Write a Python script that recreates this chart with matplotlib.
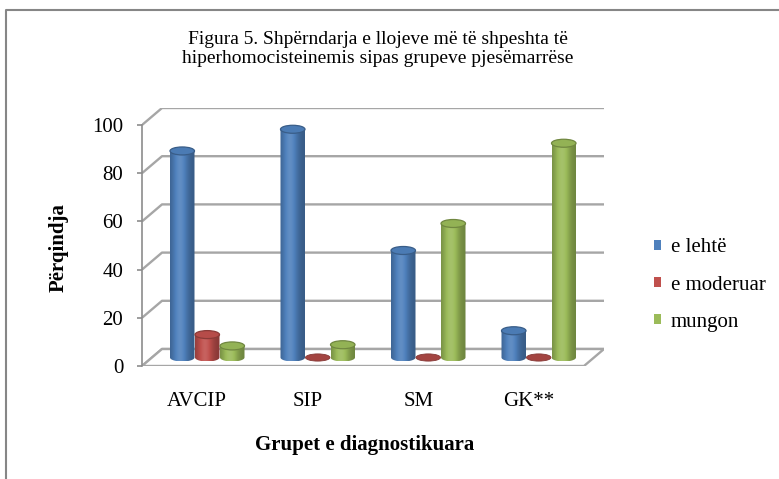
import numpy as np
import matplotlib
matplotlib.use('Agg')
import matplotlib.pyplot as plt
from matplotlib.patches import Ellipse, Patch, Polygon, PathPatch
from matplotlib.lines import Line2D
from matplotlib.path import Path
from matplotlib.colors import to_rgb
from matplotlib.font_manager import FontProperties

# ---------------- data ----------------
categories = ['AVCIP', 'SIP', 'SM', 'GK**']
series_names = ['e lehtë', 'e moderuar', 'mungon']
lehte = [85.7, 94.7, 44.4, 11.1]
moderuar = [9.5, 0.0, 0.0, 0.0]
mungon = [4.8, 5.3, 55.6, 88.9]
yticks = [0, 20, 40, 60, 80, 100]
title = 'Figura 5. Shpërndarja e llojeve më të shpeshta të\nhiperhomocisteinemis sipas grupeve pjesëmarrëse'
ylabel = 'Përqindja'
xlabel = 'Grupet e diagnostikuara'

# ---------------- style ----------------
colors = ['#4F81BD', '#C0504D', '#9BBB59']
grid_col = '#A6A6A6'
serif = ['Liberation Serif', 'DejaVu Serif']
plt.rcParams['font.family'] = serif

W, H = 779, 479
fig = plt.figure(figsize=(W / 100, H / 100), dpi=100)

L, R, B, T = 142, 604, 366, 108          # plot box in pixels
n = len(categories)
ymax = max(yticks)
ax = fig.add_axes([L / W, 1 - B / H, (R - L) / W, (B - T) / H])
depth_px_x, depth_px_y = 20, 17
ppx = (R - L - depth_px_x) / n
ddx = depth_px_x / ppx
ppy = (B - T - depth_px_y) / ymax
ddy = depth_px_y / ppy

# back wall gridlines + side wall diagonals
for v in yticks:
    ax.plot([0, ddx, n + ddx], [v, v + ddy, v + ddy], color=grid_col, lw=1.7,
            solid_capstyle='butt', zorder=1)
# floor
floor = Polygon([(0, 0), (n, 0), (n + ddx, ddy), (ddx, ddy)], closed=True,
                fc='white', ec=grid_col, lw=1.7, zorder=1.5)
ax.add_patch(floor)


def shade(rgb, f):
    rgb = np.array(rgb)
    if f <= 1:
        return rgb * f
    return rgb + (1 - rgb) * (f - 1)


def cylinder(xc, w, base, val, color):
    rgb = to_rgb(color)
    eh = 8 / ppy
    x0, x1 = xc - w / 2, xc + w / 2
    top = base + val
    if val <= 0.01:
        ax.add_patch(Ellipse((xc, base), w, eh * 0.9, fc=shade(rgb, 0.85),
                             ec=shade(rgb, 0.7), lw=0.6, zorder=3))
        return
    t = np.linspace(0, 1, 80)
    f = 0.70 + 0.40 * np.exp(-((t - 0.4) / 0.32) ** 2)
    img = np.array([[shade(rgb, fi) for fi in f]])
    im = ax.imshow(img, extent=[x0, x1, base - eh / 2, top], aspect='auto',
                   interpolation='bilinear', zorder=3)
    th = np.linspace(np.pi, 2 * np.pi, 40)
    verts = [(x0, top), (x0, base)] + \
        [(xc + w / 2 * np.cos(a), base + eh / 2 * np.sin(a)) for a in th] + \
        [(x1, top), (x0, top)]
    codes = [Path.MOVETO] + [Path.LINETO] * (len(verts) - 2) + [Path.CLOSEPOLY]
    pp = PathPatch(Path(verts, codes), transform=ax.transData, fc='none', ec='none')
    ax.add_patch(pp)
    im.set_clip_path(pp)
    ax.add_patch(Ellipse((xc, top), w, eh, fc=shade(rgb, 0.95),
                         ec=shade(rgb, 0.72), lw=0.9, zorder=4))


bar_w = 25 / ppx
series = [lehte, moderuar, mungon]
for s, (vals, col) in enumerate(zip(series, colors)):
    for i, v in enumerate(vals):
        xc = i + 0.5 + ddx / 2 + (s - 1) * bar_w
        cylinder(xc, bar_w * 0.98, ddy / 2, v, col)

ax.set_xlim(0, n + ddx)
ax.set_ylim(0, ymax + ddy)

for sp in ['top', 'right', 'bottom']:
    ax.spines[sp].set_visible(False)
ax.spines['left'].set_bounds(0, ymax)
ax.spines['left'].set_color('#8C8C8C')
ax.spines['left'].set_linewidth(1.2)
ax.set_yticks(yticks)
ax.set_yticklabels([str(v) for v in yticks], family=serif)
ax.tick_params(axis='y', length=3.5, width=1.2, pad=10, color='#8C8C8C', labelsize=15)
ax.set_xticks([i + 0.5 for i in range(n)])
ax.set_xticklabels(categories, family=serif)
ax.tick_params(axis='x', length=0, pad=19, labelsize=15)
ax.patch.set_visible(False)

# legend
handles = [Patch(facecolor=c, edgecolor='none') for c in colors]
leg = fig.legend(handles, series_names, loc='center left',
                 bbox_to_anchor=(654 / W, 1 - 285 / H), frameon=False,
                 prop=FontProperties(family='Liberation Serif', size=15),
                 handlelength=0.35, handleheight=0.35, handletextpad=0.45,
                 labelspacing=0.87, borderpad=0, borderaxespad=0)

# texts
fig.text(378 / W, 1 - 49 / H, title, ha='center', va='center', fontsize=14,
         linespacing=1.15, family='Liberation Serif')
fig.text(59 / W, 1 - 248 / H, ylabel, rotation=90, ha='center', va='center',
         fontsize=15, fontweight='bold', family='Liberation Serif')
fig.text(365 / W, 1 - 445 / H, xlabel, ha='center', va='center', fontsize=15,
         fontweight='bold', family='Liberation Serif')

# chart-area frame (left and top edges visible)
fig.add_artist(Line2D([6 / W, 6 / W, 1.0], [0.0, (H - 10) / H, (H - 10) / H],
                      transform=fig.transFigure, color='#868686', lw=1.5))

fig.savefig('out.png', dpi=100)
